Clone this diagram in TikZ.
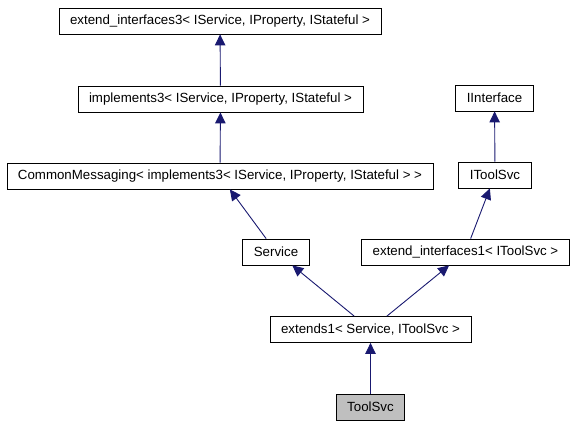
\documentclass[tikz,border=0pt]{standalone}
\usepackage{fontspec}
\setmainfont{Liberation Sans}
\usetikzlibrary{arrows.meta}
\definecolor{midnight}{HTML}{191970}
\definecolor{leafgray}{HTML}{BFBFBF}

\begin{document}
\begin{tikzpicture}[x=1pt,y=-1pt,
  cls/.style={draw, line width=0.8pt, inner xsep=11pt, inner ysep=0pt, minimum height=26pt, font=\fontsize{13.3}{16}\selectfont},
  inh/.style={draw=midnight, line width=0.9pt, -{Triangle[width=10.5pt,length=11pt,fill=midnight]}}]
\useasboundingbox (0,0) rectangle (575,427);

\node[cls] (ei3) at (220,21) {extend\_interfaces3< IService, IProperty, IStateful >};
\node[cls] (impl3) at (220.5,99) {implements3< IService, IProperty, IStateful >};
\node[cls] (cm) at (220,176) {CommonMessaging< implements3< IService, IProperty, IStateful > >};
\node[cls] (iint) at (494.5,98) {IInterface};
\node[cls] (itool) at (495,175) {IToolSvc};
\node[cls] (svc) at (276,252) {Service};
\node[cls] (ei1) at (465.5,252) {extend\_interfaces1< IToolSvc >};
\node[cls] (ext1) at (370.5,329.5) {extends1< Service, IToolSvc >};
\node[cls,fill=leafgray] (tool) at (370.5,407) {ToolSvc};

\path[inh] (impl3) -- (ei3);
\path[inh] (cm) -- (impl3);
\path[inh] (itool) -- (iint);
\path[inh] (svc) -- (cm);
\path[inh] (ei1) -- (itool);
\path[inh] (ext1) -- (svc);
\path[inh] (ext1) -- (ei1);
\path[inh] (tool) -- (ext1);
\end{tikzpicture}
\end{document}
